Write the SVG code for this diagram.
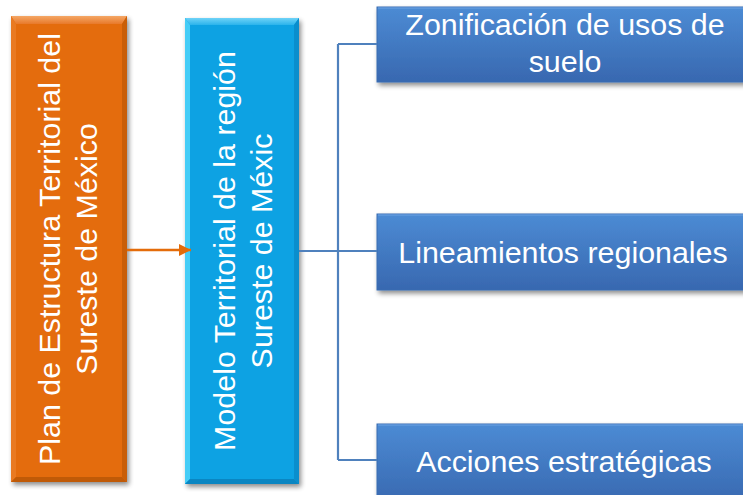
<svg xmlns="http://www.w3.org/2000/svg" width="743" height="495" viewBox="0 0 743 495">
<defs>
<style>
.t{font-family:"Liberation Sans",Arial,sans-serif;font-size:30.4px;fill:#ffffff;text-anchor:middle}
.c{fill:none;stroke:#4f81bd;stroke-width:2.2}
</style>
<linearGradient id="gb" x1="0" y1="0" x2="0" y2="1">
<stop offset="0" stop-color="#4c8bd4"/>
<stop offset="1" stop-color="#3868b0"/>
</linearGradient>
<linearGradient id="gTopO" x1="0" y1="0" x2="0" y2="1">
<stop offset="0" stop-color="#f4a766"/>
<stop offset="1" stop-color="#e8792a"/>
</linearGradient>
<linearGradient id="gTopB" x1="0" y1="0" x2="0" y2="1">
<stop offset="0" stop-color="#6fd3f7"/>
<stop offset="1" stop-color="#2bb3ec"/>
</linearGradient>
<filter id="sh" x="-10%" y="-10%" width="130%" height="130%">
<feGaussianBlur in="SourceAlpha" stdDeviation="2.5"/>
<feOffset dx="2" dy="3" result="b"/>
<feComponentTransfer><feFuncA type="linear" slope="0.45"/></feComponentTransfer>
<feMerge><feMergeNode/><feMergeNode in="SourceGraphic"/></feMerge>
</filter>
<marker id="ao" markerWidth="13" markerHeight="13" refX="12" refY="6.5" orient="auto" markerUnits="userSpaceOnUse">
<path d="M0,0.5 L12,6.5 L0,12.5 Z" fill="#e46c0a"/>
</marker>
</defs>
<rect width="743" height="495" fill="#ffffff"/>

<g id="plan">
<g filter="url(#sh)">
<rect x="11" y="16" width="116" height="466" fill="#e46c0a"/>
</g>
<polygon points="11,16 127,16 122,24 16,24" fill="url(#gTopO)"/>
<polygon points="11,16 16,24 16,477 11,482" fill="#e97a22"/>
<polygon points="127,16 127,482 122,477 122,24" fill="#c95e08"/>
<polygon points="11,482 127,482 122,477 16,477" fill="#c05a07"/>
<text class="t" transform="translate(60,249) rotate(-90)">Plan de Estructura Territorial del</text>
<text class="t" transform="translate(97,249) rotate(-90)">Sureste de México</text>
</g>

<g id="modelo">
<g filter="url(#sh)">
<rect x="185" y="18" width="114" height="466" fill="#0aa2e3"/>
</g>
<polygon points="185,18 299,18 294,25 190,25" fill="url(#gTopB)"/>
<polygon points="185,18 190,25 190,479 185,484" fill="#45cdf7"/>
<polygon points="299,18 299,484 294,479 294,25" fill="#0a8ecd"/>
<polygon points="185,484 299,484 294,479 190,479" fill="#0a86c2"/>
<text class="t" transform="translate(235,251) rotate(-90)">Modelo Territorial de la región</text>
<text class="t" transform="translate(272,251) rotate(-90)">Sureste de Méxic</text>
</g>

<g id="zonificacion">
<rect x="377" y="7" width="376" height="75" fill="url(#gb)" stroke="#3a6cb2" stroke-width="1" filter="url(#sh)"/>
<line x1="378" y1="8" x2="753" y2="8" stroke="#6fa3e4" stroke-width="1"/>
<text class="t" x="565" y="35">Zonificación de usos de</text>
<text class="t" x="565" y="72">suelo</text>
</g>

<g id="lineamientos">
<rect x="377" y="214" width="376" height="76" fill="url(#gb)" stroke="#3a6cb2" stroke-width="1" filter="url(#sh)"/>
<line x1="378" y1="215" x2="753" y2="215" stroke="#6fa3e4" stroke-width="1"/>
<text class="t" x="563" y="263">Lineamientos regionales</text>
</g>

<g id="acciones">
<rect x="377" y="424" width="376" height="80" fill="url(#gb)" stroke="#3a6cb2" stroke-width="1" filter="url(#sh)"/>
<line x1="378" y1="425" x2="753" y2="425" stroke="#6fa3e4" stroke-width="1"/>
<text class="t" x="564" y="472">Acciones estratégicas</text>
</g>

<g id="connectors">
<line x1="127" y1="250" x2="191" y2="250" stroke="#e46c0a" stroke-width="2.5" marker-end="url(#ao)"/>
<path class="c" d="M299,251 H377 M338,44 V460 M338,44 H377 M338,460 H377"/>
</g>
</svg>
